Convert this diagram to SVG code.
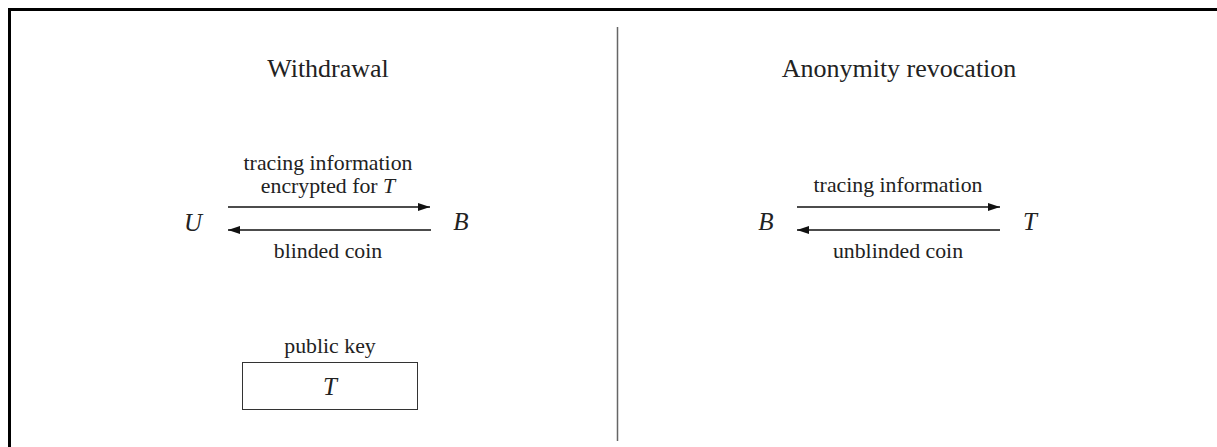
<svg xmlns="http://www.w3.org/2000/svg" width="1217" height="447" viewBox="0 0 1217 447">
<style>
text{font-family:"Liberation Serif","DejaVu Serif",serif;fill:#222;text-anchor:middle}
.title{font-size:26px}
.lbl{font-size:21.8px}
.m{font-size:25px;font-style:italic}
.arr{stroke:#111;stroke-width:1.3;fill:none}
</style>
<defs>
<marker id="ah" viewBox="0 0 12 8" refX="12" refY="4" markerWidth="12" markerHeight="8" markerUnits="userSpaceOnUse" orient="auto">
<path d="M0,0 L12,4 L0,8 Z" fill="#111"/>
</marker>
</defs>
<rect width="1217" height="447" fill="#fff"/>
<g id="frame">
<path d="M9.5,447 V9.5 H1217" fill="none" stroke="#000" stroke-width="3"/>
<line x1="617.5" y1="27" x2="617.5" y2="441" stroke="#666" stroke-width="1.5"/>
</g>
<g id="titles">
<text class="title" x="328" y="77">Withdrawal</text>
<text class="title" x="899" y="77">Anonymity revocation</text>
</g>
<g id="node-U"><text class="m" x="193" y="231">U</text></g>
<g id="node-B1"><text class="m" x="461" y="230">B</text></g>
<g id="node-B2"><text class="m" x="766" y="230">B</text></g>
<g id="node-T2"><text class="m" x="1030" y="230">T</text></g>
<g id="node-Tbox">
<text class="lbl" x="330" y="353">public key</text>
<rect x="242.5" y="362.5" width="175" height="47" fill="none" stroke="#333" stroke-width="1"/>
<text class="m" x="330" y="395">T</text>
</g>
<g id="connectors">
<line class="arr" x1="228" y1="207" x2="430" y2="207" marker-end="url(#ah)"/>
<line class="arr" x1="431" y1="230" x2="228" y2="230" marker-end="url(#ah)"/>
<line class="arr" x1="797" y1="207" x2="1000" y2="207" marker-end="url(#ah)"/>
<line class="arr" x1="1000" y1="230" x2="797" y2="230" marker-end="url(#ah)"/>
<text class="lbl" x="328" y="170">tracing information</text>
<text class="lbl" x="328" y="193">encrypted for <tspan font-style="italic">T</tspan></text>
<text class="lbl" x="328" y="258">blinded coin</text>
<text class="lbl" x="898" y="192">tracing information</text>
<text class="lbl" x="898" y="258">unblinded coin</text>
</g>
</svg>
